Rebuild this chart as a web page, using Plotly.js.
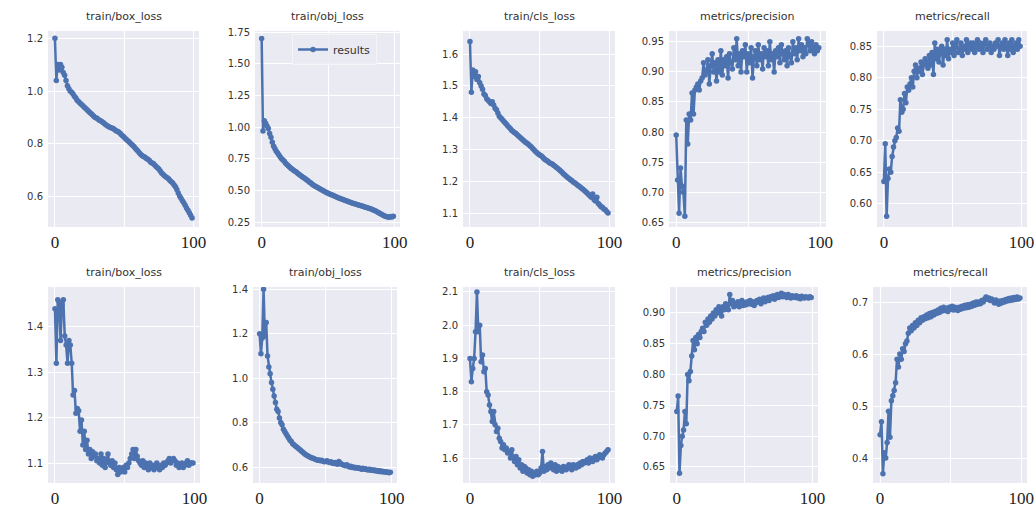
<!DOCTYPE html>
<html>
<head>
<meta charset="utf-8">
<script src="https://cdn.plot.ly/plotly-3.0.1.min.js"></script>
<style>html,body{margin:0;padding:0;background:#fff;}#chart{width:1035px;height:516px;}</style>
</head>
<body>
<div id="chart"></div>
<script>
// ---- titles ----
const titles = ["train/box_loss","train/obj_loss","train/cls_loss","metrics/precision","metrics/recall",
                "train/box_loss","train/obj_loss","train/cls_loss","metrics/precision","metrics/recall"];
const seriesName = "results";
const xTickVals = [0, 50, 100];
const xTickText = ["0", "", "100"];

// ---- top row series (epochs 0..99) ----
const topBoxLoss = [1.20,1.04,1.10,1.08,1.10,1.09,1.07,1.06,1.04,1.02,
 1.01,1.00,0.995,0.99,0.98,0.975,0.965,0.96,0.955,0.95,
 0.945,0.94,0.935,0.93,0.925,0.92,0.915,0.91,0.905,0.90,
 0.898,0.894,0.89,0.888,0.884,0.88,0.875,0.872,0.868,0.865,
 0.862,0.86,0.858,0.855,0.85,0.848,0.845,0.84,0.835,0.83,
 0.825,0.82,0.815,0.81,0.805,0.80,0.795,0.79,0.784,0.778,
 0.772,0.766,0.76,0.755,0.753,0.75,0.745,0.742,0.738,0.732,
 0.728,0.726,0.72,0.715,0.71,0.705,0.698,0.69,0.685,0.68,
 0.676,0.672,0.668,0.662,0.657,0.652,0.645,0.638,0.628,0.615,
 0.603,0.595,0.585,0.578,0.568,0.558,0.549,0.54,0.53,0.52];

const topObjLoss = [1.70,0.97,1.05,1.03,1.01,0.99,0.95,0.92,0.88,0.85,
 0.83,0.81,0.795,0.78,0.765,0.75,0.74,0.73,0.715,0.705,
 0.695,0.685,0.675,0.668,0.66,0.652,0.645,0.635,0.628,0.62,
 0.612,0.605,0.598,0.59,0.582,0.575,0.565,0.558,0.548,0.54,
 0.535,0.53,0.524,0.518,0.512,0.506,0.50,0.494,0.488,0.482,
 0.477,0.472,0.468,0.464,0.46,0.455,0.45,0.445,0.44,0.436,
 0.432,0.428,0.424,0.42,0.416,0.412,0.408,0.404,0.40,0.397,
 0.394,0.39,0.387,0.384,0.381,0.378,0.375,0.372,0.368,0.365,
 0.362,0.358,0.355,0.35,0.346,0.342,0.336,0.33,0.324,0.318,
 0.312,0.306,0.30,0.296,0.292,0.29,0.288,0.293,0.29,0.296];

const topClsLoss = [1.64,1.48,1.55,1.53,1.545,1.52,1.53,1.51,1.50,1.49,
 1.475,1.47,1.46,1.455,1.45,1.445,1.45,1.44,1.43,1.425,
 1.415,1.405,1.40,1.395,1.39,1.385,1.38,1.375,1.37,1.365,
 1.36,1.357,1.353,1.35,1.346,1.342,1.338,1.334,1.33,1.326,
 1.322,1.32,1.316,1.312,1.308,1.303,1.298,1.294,1.29,1.286,
 1.283,1.28,1.276,1.272,1.268,1.265,1.262,1.258,1.256,1.254,
 1.25,1.247,1.243,1.24,1.236,1.232,1.228,1.224,1.22,1.216,
 1.212,1.209,1.205,1.202,1.198,1.195,1.192,1.188,1.185,1.182,
 1.178,1.175,1.171,1.167,1.163,1.158,1.154,1.15,1.16,1.142,
 1.138,1.15,1.13,1.125,1.12,1.118,1.113,1.11,1.105,1.10];

const topPrecision = [0.795,0.72,0.665,0.74,0.71,0.70,0.66,0.82,0.78,0.83,
 0.82,0.865,0.83,0.87,0.875,0.88,0.87,0.885,0.89,0.915,
 0.895,0.90,0.92,0.88,0.91,0.93,0.90,0.915,0.885,0.92,
 0.90,0.935,0.895,0.92,0.91,0.925,0.89,0.93,0.915,0.905,
 0.94,0.92,0.955,0.91,0.93,0.90,0.935,0.925,0.945,0.90,
 0.93,0.915,0.94,0.89,0.925,0.935,0.91,0.945,0.92,0.93,
 0.905,0.94,0.925,0.935,0.91,0.95,0.92,0.93,0.90,0.935,
 0.925,0.94,0.915,0.945,0.93,0.92,0.935,0.91,0.94,0.925,
 0.915,0.95,0.93,0.94,0.92,0.955,0.935,0.945,0.925,0.94,
 0.93,0.955,0.945,0.935,0.95,0.94,0.93,0.945,0.935,0.94];

const topRecall = [0.635,0.695,0.58,0.64,0.655,0.65,0.675,0.69,0.70,0.705,
 0.72,0.715,0.765,0.745,0.75,0.775,0.76,0.785,0.78,0.79,
 0.80,0.785,0.81,0.82,0.80,0.815,0.81,0.825,0.805,0.82,
 0.83,0.825,0.815,0.835,0.82,0.84,0.805,0.855,0.83,0.845,
 0.825,0.84,0.85,0.82,0.845,0.835,0.86,0.83,0.845,0.84,
 0.855,0.835,0.85,0.86,0.84,0.845,0.855,0.835,0.85,0.845,
 0.86,0.84,0.85,0.855,0.845,0.855,0.84,0.85,0.86,0.845,
 0.855,0.85,0.84,0.855,0.86,0.845,0.85,0.855,0.84,0.85,
 0.845,0.855,0.85,0.86,0.835,0.85,0.855,0.845,0.86,0.85,
 0.835,0.855,0.845,0.86,0.84,0.85,0.855,0.845,0.86,0.85];

// ---- bottom row series ----
const botBoxLoss = [1.44,1.32,1.46,1.455,1.37,1.45,1.46,1.38,1.36,1.32,
 1.37,1.36,1.32,1.25,1.26,1.21,1.22,1.215,1.17,1.195,
 1.14,1.17,1.13,1.15,1.12,1.13,1.11,1.125,1.115,1.12,
 1.105,1.11,1.10,1.12,1.095,1.11,1.09,1.105,1.12,1.10,
 1.095,1.105,1.09,1.10,1.085,1.075,1.09,1.08,1.085,1.09,
 1.08,1.095,1.09,1.10,1.11,1.12,1.13,1.11,1.13,1.115,
 1.105,1.10,1.095,1.105,1.09,1.10,1.095,1.085,1.10,1.09,
 1.095,1.085,1.09,1.10,1.09,1.085,1.095,1.09,1.10,1.095,
 1.10,1.105,1.11,1.10,1.105,1.11,1.105,1.095,1.10,1.09,
 1.095,1.10,1.09,1.095,1.10,1.105,1.095,1.10,1.10,1.10];

const botObjLoss = [1.20,1.11,1.18,1.40,1.19,1.25,1.10,1.05,1.02,0.98,
 0.95,0.92,0.89,0.86,0.85,0.82,0.80,0.79,0.77,0.76,
 0.75,0.74,0.73,0.72,0.715,0.705,0.70,0.695,0.69,0.685,
 0.68,0.675,0.67,0.665,0.66,0.655,0.652,0.648,0.645,0.642,
 0.64,0.638,0.635,0.633,0.63,0.632,0.628,0.63,0.626,0.624,
 0.625,0.628,0.622,0.62,0.624,0.618,0.616,0.62,0.615,0.612,
 0.625,0.618,0.612,0.61,0.608,0.606,0.61,0.604,0.60,0.603,
 0.598,0.60,0.596,0.598,0.594,0.597,0.593,0.59,0.594,0.59,
 0.592,0.589,0.586,0.59,0.585,0.588,0.584,0.586,0.582,0.584,
 0.58,0.583,0.579,0.581,0.577,0.579,0.576,0.578,0.574,0.576];

const botClsLoss = [1.90,1.83,1.87,1.90,1.98,2.10,1.98,2.00,1.89,1.91,
 1.86,1.87,1.80,1.79,1.76,1.74,1.71,1.74,1.70,1.68,
 1.69,1.66,1.65,1.63,1.64,1.625,1.63,1.615,1.62,1.60,
 1.625,1.60,1.59,1.605,1.58,1.595,1.57,1.58,1.56,1.575,
 1.57,1.555,1.565,1.55,1.56,1.545,1.555,1.55,1.56,1.55,
 1.555,1.57,1.62,1.56,1.575,1.565,1.58,1.57,1.585,1.575,
 1.565,1.58,1.56,1.575,1.565,1.57,1.56,1.575,1.57,1.565,
 1.575,1.58,1.57,1.565,1.58,1.575,1.57,1.58,1.575,1.585,
 1.58,1.59,1.585,1.59,1.595,1.585,1.60,1.595,1.59,1.60,
 1.605,1.595,1.60,1.61,1.605,1.60,1.61,1.615,1.62,1.625];

const botPrecision = [0.74,0.765,0.64,0.685,0.70,0.71,0.74,0.72,0.80,0.79,
 0.805,0.83,0.855,0.84,0.86,0.85,0.865,0.86,0.87,0.875,
 0.87,0.885,0.88,0.89,0.885,0.895,0.89,0.90,0.895,0.905,
 0.90,0.91,0.905,0.895,0.91,0.905,0.915,0.91,0.905,0.93,
 0.915,0.92,0.91,0.915,0.912,0.918,0.91,0.915,0.92,0.912,
 0.916,0.913,0.918,0.915,0.92,0.914,0.918,0.912,0.916,0.92,
 0.918,0.922,0.915,0.92,0.924,0.918,0.922,0.925,0.92,0.926,
 0.924,0.928,0.922,0.926,0.93,0.925,0.928,0.932,0.926,0.93,
 0.928,0.925,0.93,0.927,0.924,0.928,0.926,0.925,0.928,0.924,
 0.926,0.923,0.927,0.925,0.924,0.926,0.925,0.924,0.926,0.925];

const botRecall = [0.445,0.47,0.37,0.41,0.40,0.43,0.49,0.44,0.51,0.52,
 0.53,0.545,0.59,0.575,0.60,0.59,0.61,0.605,0.62,0.625,
 0.64,0.65,0.645,0.655,0.65,0.66,0.655,0.665,0.66,0.67,
 0.665,0.672,0.668,0.675,0.67,0.678,0.672,0.68,0.675,0.682,
 0.678,0.685,0.68,0.688,0.683,0.69,0.684,0.688,0.682,0.69,
 0.686,0.692,0.685,0.69,0.688,0.684,0.69,0.686,0.692,0.688,
 0.694,0.689,0.695,0.69,0.696,0.692,0.698,0.694,0.70,0.696,
 0.70,0.697,0.703,0.70,0.706,0.71,0.705,0.708,0.703,0.706,
 0.702,0.698,0.704,0.70,0.696,0.702,0.698,0.703,0.70,0.705,
 0.702,0.707,0.703,0.708,0.704,0.709,0.705,0.71,0.706,0.708];

const allSeries = [topBoxLoss, topObjLoss, topClsLoss, topPrecision, topRecall,
                   botBoxLoss, botObjLoss, botClsLoss, botPrecision, botRecall];

// ---- layout geometry (pixels in a 1035x516 canvas) ----
const W = 1035, H = 516;
const panelX = [[48,199],[255,400],[463,615],[669,826],[877,1027],
                [48,200],[253,397],[463,615],[670,818],[873,1027]];
const rowY = [[31,227],[287,483]];
const yRanges = [[0.486,1.227],[0.211,1.76],[1.056,1.673],[0.642,0.968],[0.563,0.874],
                 [1.056,1.488],[0.528,1.41],[1.525,2.115],[0.624,0.942],[0.352,0.729]];
const yDtick = [0.2,0.25,0.1,0.05,0.05, 0.1,0.2,0.1,0.05,0.1];

const color = '#4C72B0';
const traces = [];
const layout = {
  width: W, height: H,
  margin: {l:0, r:0, t:0, b:0},
  paper_bgcolor: '#ffffff',
  plot_bgcolor: '#EAEAF2',
  showlegend: true,
  legend: {x: 292/W, y: 1 - 34/H, xanchor: 'left', yanchor: 'top',
           bgcolor: 'rgba(234,234,242,0.85)', bordercolor: '#f5f5f8', borderwidth: 1,
           font: {family: 'DejaVu Sans', size: 11, color: '#333'}},
  annotations: []
};

for (let i = 0; i < 10; i++) {
  const ys = allSeries[i];
  const xs = ys.map((_, k) => k);
  const n = i + 1;
  const row = i < 5 ? 0 : 1;
  traces.push({
    x: xs, y: ys, type: 'scatter', mode: 'lines+markers',
    name: seriesName, showlegend: i === 1,
    line: {color: color, width: 2.5},
    marker: {color: color, size: 5.5},
    xaxis: 'x' + (n === 1 ? '' : n), yaxis: 'y' + (n === 1 ? '' : n)
  });
  const xd = [panelX[i][0] / W, panelX[i][1] / W];
  const yd = [1 - rowY[row][1] / H, 1 - rowY[row][0] / H];
  layout['xaxis' + (n === 1 ? '' : n)] = {
    domain: xd, range: [-5, 104], anchor: 'y' + (n === 1 ? '' : n),
    tickvals: xTickVals, ticktext: xTickText,
    showgrid: true, gridcolor: '#ffffff', gridwidth: 1, zeroline: false, showline: false,
    ticks: '', ticklabelstandoff: 3,
    tickfont: {family: 'Liberation Serif', size: 17, color: '#222'}
  };
  layout['yaxis' + (n === 1 ? '' : n)] = {
    domain: yd, range: yRanges[i], anchor: 'x' + (n === 1 ? '' : n),
    dtick: yDtick[i], tickformat: yDtick[i] === 0.05 || yDtick[i] === 0.25 ? '.2f' : '.1f',
    showgrid: true, gridcolor: '#ffffff', gridwidth: 1, zeroline: false, showline: false,
    ticks: '', ticklabelstandoff: 4,
    tickfont: {family: 'DejaVu Sans', size: 10, color: '#333'}
  };
  layout.annotations.push({
    text: titles[i], xref: 'paper', yref: 'paper',
    x: (xd[0] + xd[1]) / 2, y: yd[1], yshift: 6,
    xanchor: 'center', yanchor: 'bottom', showarrow: false,
    font: {family: 'DejaVu Sans', size: 11, color: '#333'}
  });
}

Plotly.newPlot('chart', traces, layout, {displayModeBar: false, staticPlot: true});
</script>
</body>
</html>
